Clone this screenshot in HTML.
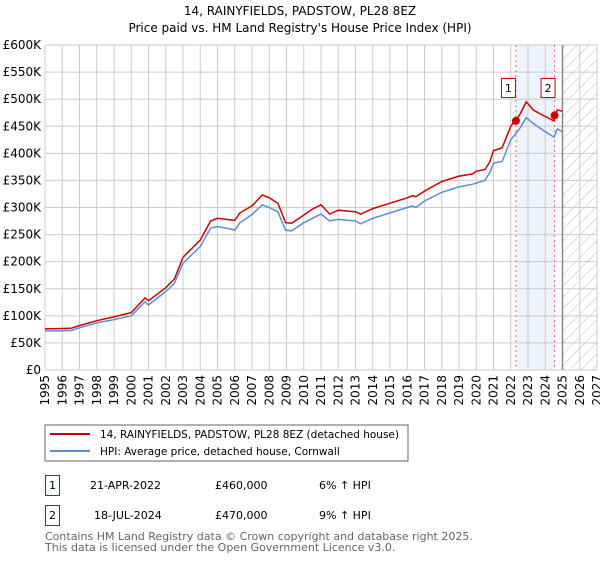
<!DOCTYPE html>
<html><head><meta charset="utf-8"><style>
body{margin:0;background:#fff;font-family:"DejaVu Sans","Liberation Sans",sans-serif;}
svg text{font-family:"DejaVu Sans","Liberation Sans",sans-serif;}
</style></head><body>
<svg id="c" width="600" height="560" xmlns="http://www.w3.org/2000/svg">
<defs><pattern id="hatch" width="8" height="8" patternUnits="userSpaceOnUse" patternTransform="rotate(45)"><line x1="0" y1="0" x2="0" y2="8" stroke="#bbb" stroke-width="1"/></pattern></defs>
<text x="300" y="15" text-anchor="middle" font-size="12">14, RAINYFIELDS, PADSTOW, PL28 8EZ</text>
<text x="300" y="32" text-anchor="middle" font-size="12">Price paid vs. HM Land Registry's House Price Index (HPI)</text>
<g id="grid"></g><g id="plot"></g>
<rect x="45" y="425" width="363" height="36" fill="none" stroke="#666"/>
<line x1="50" y1="434" x2="90" y2="434" stroke="#cc0000" stroke-width="2"/>
<text x="100" y="438" font-size="10.5">14, RAINYFIELDS, PADSTOW, PL28 8EZ (detached house)</text>
<line x1="50" y1="451" x2="90" y2="451" stroke="#5b8fd4" stroke-width="2"/>
<text x="100" y="455" font-size="10.5">HPI: Average price, detached house, Cornwall</text>
<g font-size="11">
<rect x="45.5" y="475.5" width="14" height="20" fill="none" stroke="#cc0000"/>
<text x="52.5" y="489" text-anchor="middle">1</text>
<text x="90" y="489">21-APR-2022</text>
<text x="215" y="489">£460,000</text>
<text x="319" y="489">6% ↑ HPI</text>
<rect x="45.5" y="505.5" width="14" height="20" fill="none" stroke="#cc0000"/>
<text x="52.5" y="519" text-anchor="middle">2</text>
<text x="94" y="519">18-JUL-2024</text>
<text x="215" y="519">£470,000</text>
<text x="319" y="519">9% ↑ HPI</text>
</g>
<text x="45" y="540" font-size="11" fill="#666">Contains HM Land Registry data © Crown copyright and database right 2025.</text>
<text x="45" y="551" font-size="11" fill="#666">This data is licensed under the Open Government Licence v3.0.</text>
</svg>
<script>
const hpiYears=[1995,1995.5,1996.5,1997,1998,1999,2000,2000.8,2001,2002,2002.5,2003,2004,2004.6,2005,2005.8,2006,2006.3,2007,2007.6,2008,2008.5,2008.95,2009.3,2010,2010.5,2011,2011.5,2012,2013,2013.3,2014,2015,2016,2016.3,2016.5,2017,2018,2019,2019.8,2020,2020.5,2020.8,2021,2021.5,2022,2022.5,2022.9,2023.3,2024,2024.5,2024.7,2025];
const hpiValues=[72.5,72,73,78,87,93,100,126,120,145,160,197,228,262,265,260,258,272,287,305,300,292,258,257,272,280,288,275,278,275,270,280,290,300,303,300,312,328,338,343,345,350,365,382,385,425,445,466,455,440,430,445,440];
const propValues=[76,76,77,82,91,98,106,133,128,152,168,208,240,275,280,277,276,290,303,323,318,308,272,271,286,297,305,288,295,292,288,298,308,318,322,320,330,348,358,362,367,370,385,405,410,450,470,495,480,468,460,480,478];
const saleYears=[2022.3,2024.54];
const saleValues=[460,470];
const yTicks=[0,50,100,150,200,250,300,350,400,450,500,550,600];
const yTickLabels=["£0","£50K","£100K","£150K","£200K","£250K","£300K","£350K","£400K","£450K","£500K","£550K","£600K"];
const xTicks=[1995,1996,1997,1998,1999,2000,2001,2002,2003,2004,2005,2006,2007,2008,2009,2010,2011,2012,2013,2014,2015,2016,2017,2018,2019,2020,2021,2022,2023,2024,2025,2026,2027];
const NS="http://www.w3.org/2000/svg";
const X0=45,X1=597,Y0=370,Y1=45;
const xs=y=>X0+(y-1995)/(2027-1995)*(X1-X0);
const ys=v=>Y0-v/600*(Y0-Y1);
const grid=document.getElementById('grid'),plot=document.getElementById('plot');
function mk(tag,attrs,parent){const e=document.createElementNS(NS,tag);for(const k in attrs)e.setAttribute(k,attrs[k]);parent.appendChild(e);return e;}
let sh=mk('rect',{x:xs(saleYears[0]),y:Y1,width:xs(saleYears[1])-xs(saleYears[0]),height:Y0-Y1,fill:'#eef3fc'},grid);


let hz=mk('rect',{x:xs(2025),y:Y1,width:X1-xs(2025),height:Y0-Y1,fill:'url(#hatch)'},grid);


yTicks.forEach((t,i)=>{
 let l=mk('line',{x1:X0,x2:X1,y1:ys(t),y2:ys(t),stroke:'#ccc'},grid);
 
 
 let tx=mk('text',{x:X0-4,y:ys(t)+4,'text-anchor':'end','font-size':12},grid);
 tx.textContent=yTickLabels[i];
 
 
});
xTicks.forEach(t=>{
 let l=mk('line',{x1:xs(t),x2:xs(t),y1:Y1,y2:Y0,stroke:'#ccc'},grid);
 
 
 let tx=mk('text',{x:0,y:0,'text-anchor':'end','font-size':12,transform:`translate(${xs(t)+4},${Y0+5}) rotate(-90)`},grid);
 tx.textContent=t;
 
 
});
let nl=mk('line',{x1:xs(2025),x2:xs(2025),y1:Y1,y2:Y0,stroke:'#888','stroke-width':1.5},grid);


saleYears.forEach((y,i)=>{
 let l=mk('line',{x1:xs(y),x2:xs(y),y1:Y1,y2:Y0,stroke:'#e66','stroke-dasharray':'2,3'},grid);
 
 
});
function path(vals,color,name){
 const d=hpiYears.map((y,i)=>(i?'L':'M')+xs(y).toFixed(1)+','+ys(vals[i]).toFixed(1)).join('');
 let p=mk('path',{d:d,fill:'none',stroke:color,'stroke-width':1.5},plot);
 
 
}
path(hpiValues,'#5b8fd4','hpi-line');
path(propValues,'#cc0000','property-line');
saleYears.forEach((y,i)=>{
 let c=mk('circle',{cx:xs(y),cy:ys(saleValues[i]),r:4,fill:'#cc0000'},plot);
 
 
 const off=i?-13.5:-14.5;
 let b=mk('rect',{x:xs(y)+off,y:78.5,width:14,height:19,fill:'#fff',stroke:'#cc0000'},plot);
 
 
 let t=mk('text',{x:xs(y)+off+7,y:92,'text-anchor':'middle','font-size':11},plot);
 t.textContent=String(i+1);
 
 
});
</script>
</body></html>
